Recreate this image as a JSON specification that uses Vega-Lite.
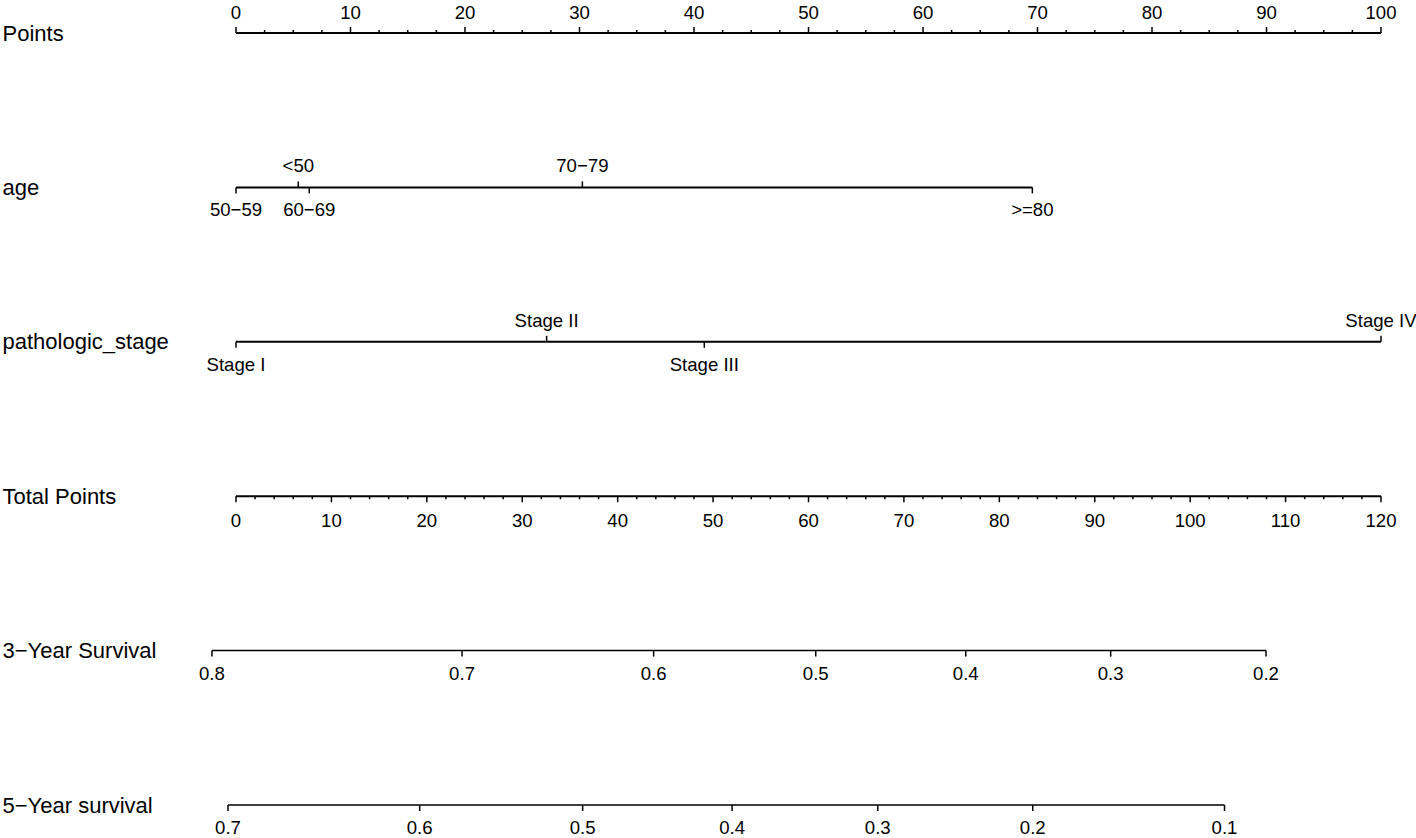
{
  "$schema": "https://vega.github.io/schema/vega-lite/v6.json",
  "width": 1145,
  "height": 772,
  "autosize": {"type": "none"},
  "padding": {"left": 236, "top": 33, "right": 35, "bottom": 33},
  "background": "white",
  "config": {
    "view": {"stroke": null},
    "mark": {"color": "black"},
    "rule": {"color": "black"},
    "text": {"font": "Liberation Sans", "fontSize": 18.6, "color": "black", "baseline": "middle", "align": "center"}
  },
  "datasets": {
    "ptsLines": [
      {"row": "Points", "start": 0, "end": 100},
      {"row": "age", "start": 0, "end": 69.55},
      {"row": "pathologic_stage", "start": 0, "end": 100}
    ],
    "totLines": [
      {"row": "Total Points", "start": 0, "end": 120}
    ],
    "survLines": [
      {"row": "3−Year Survival", "start": -2.52, "end": 107.95},
      {"row": "5−Year survival", "start": -0.84, "end": 103.6}
    ],
    "pointsMajor": [
      {"row": "Points", "value": 0}, {"row": "Points", "value": 10}, {"row": "Points", "value": 20},
      {"row": "Points", "value": 30}, {"row": "Points", "value": 40}, {"row": "Points", "value": 50},
      {"row": "Points", "value": 60}, {"row": "Points", "value": 70}, {"row": "Points", "value": 80},
      {"row": "Points", "value": 90}, {"row": "Points", "value": 100}
    ],
    "pointsMinor": [
      {"row": "Points", "value": 2.5}, {"row": "Points", "value": 5}, {"row": "Points", "value": 7.5},
      {"row": "Points", "value": 12.5}, {"row": "Points", "value": 15}, {"row": "Points", "value": 17.5},
      {"row": "Points", "value": 22.5}, {"row": "Points", "value": 25}, {"row": "Points", "value": 27.5},
      {"row": "Points", "value": 32.5}, {"row": "Points", "value": 35}, {"row": "Points", "value": 37.5},
      {"row": "Points", "value": 42.5}, {"row": "Points", "value": 45}, {"row": "Points", "value": 47.5},
      {"row": "Points", "value": 52.5}, {"row": "Points", "value": 55}, {"row": "Points", "value": 57.5},
      {"row": "Points", "value": 62.5}, {"row": "Points", "value": 65}, {"row": "Points", "value": 67.5},
      {"row": "Points", "value": 72.5}, {"row": "Points", "value": 75}, {"row": "Points", "value": 77.5},
      {"row": "Points", "value": 82.5}, {"row": "Points", "value": 85}, {"row": "Points", "value": 87.5},
      {"row": "Points", "value": 92.5}, {"row": "Points", "value": 95}, {"row": "Points", "value": 97.5}
    ],
    "predictors": [
      {"row": "age", "label": "<50", "points": 5.44},
      {"row": "age", "label": "50−59", "points": 0},
      {"row": "age", "label": "60−69", "points": 6.4},
      {"row": "age", "label": "70−79", "points": 30.25},
      {"row": "age", "label": ">=80", "points": 69.55},
      {"row": "pathologic_stage", "label": "Stage I", "points": 0},
      {"row": "pathologic_stage", "label": "Stage II", "points": 27.13},
      {"row": "pathologic_stage", "label": "Stage III", "points": 40.9},
      {"row": "pathologic_stage", "label": "Stage IV", "points": 100}
    ],
    "totalMajor": [
      {"row": "Total Points", "value": 0}, {"row": "Total Points", "value": 10}, {"row": "Total Points", "value": 20},
      {"row": "Total Points", "value": 30}, {"row": "Total Points", "value": 40}, {"row": "Total Points", "value": 50},
      {"row": "Total Points", "value": 60}, {"row": "Total Points", "value": 70}, {"row": "Total Points", "value": 80},
      {"row": "Total Points", "value": 90}, {"row": "Total Points", "value": 100}, {"row": "Total Points", "value": 110},
      {"row": "Total Points", "value": 120}
    ],
    "totalMinor": [
      {"row": "Total Points", "value": 2}, {"row": "Total Points", "value": 4}, {"row": "Total Points", "value": 6}, {"row": "Total Points", "value": 8},
      {"row": "Total Points", "value": 12}, {"row": "Total Points", "value": 14}, {"row": "Total Points", "value": 16}, {"row": "Total Points", "value": 18},
      {"row": "Total Points", "value": 22}, {"row": "Total Points", "value": 24}, {"row": "Total Points", "value": 26}, {"row": "Total Points", "value": 28},
      {"row": "Total Points", "value": 32}, {"row": "Total Points", "value": 34}, {"row": "Total Points", "value": 36}, {"row": "Total Points", "value": 38},
      {"row": "Total Points", "value": 42}, {"row": "Total Points", "value": 44}, {"row": "Total Points", "value": 46}, {"row": "Total Points", "value": 48},
      {"row": "Total Points", "value": 52}, {"row": "Total Points", "value": 54}, {"row": "Total Points", "value": 56}, {"row": "Total Points", "value": 58},
      {"row": "Total Points", "value": 62}, {"row": "Total Points", "value": 64}, {"row": "Total Points", "value": 66}, {"row": "Total Points", "value": 68},
      {"row": "Total Points", "value": 72}, {"row": "Total Points", "value": 74}, {"row": "Total Points", "value": 76}, {"row": "Total Points", "value": 78},
      {"row": "Total Points", "value": 82}, {"row": "Total Points", "value": 84}, {"row": "Total Points", "value": 86}, {"row": "Total Points", "value": 88},
      {"row": "Total Points", "value": 92}, {"row": "Total Points", "value": 94}, {"row": "Total Points", "value": 96}, {"row": "Total Points", "value": 98},
      {"row": "Total Points", "value": 102}, {"row": "Total Points", "value": 104}, {"row": "Total Points", "value": 106}, {"row": "Total Points", "value": 108},
      {"row": "Total Points", "value": 112}, {"row": "Total Points", "value": 114}, {"row": "Total Points", "value": 116}, {"row": "Total Points", "value": 118}
    ],
    "survival": [
      {"row": "3−Year Survival", "prob": "0.8", "total": -2.52},
      {"row": "3−Year Survival", "prob": "0.7", "total": 23.69},
      {"row": "3−Year Survival", "prob": "0.6", "total": 43.77},
      {"row": "3−Year Survival", "prob": "0.5", "total": 60.76},
      {"row": "3−Year Survival", "prob": "0.4", "total": 76.48},
      {"row": "3−Year Survival", "prob": "0.3", "total": 91.67},
      {"row": "3−Year Survival", "prob": "0.2", "total": 107.95},
      {"row": "5−Year survival", "prob": "0.7", "total": -0.84},
      {"row": "5−Year survival", "prob": "0.6", "total": 19.25},
      {"row": "5−Year survival", "prob": "0.5", "total": 36.33},
      {"row": "5−Year survival", "prob": "0.4", "total": 51.99},
      {"row": "5−Year survival", "prob": "0.3", "total": 67.26},
      {"row": "5−Year survival", "prob": "0.2", "total": 83.5},
      {"row": "5−Year survival", "prob": "0.1", "total": 103.6}
    ]
  },
  "encoding": {
    "y": {
      "field": "row",
      "type": "ordinal",
      "scale": {
        "type": "point",
        "padding": 0,
        "domain": ["Points", "age", "pathologic_stage", "Total Points", "3−Year Survival", "5−Year survival"]
      },
      "axis": {
        "title": null,
        "domain": false,
        "ticks": false,
        "tickSize": 0,
        "grid": false,
        "labelPadding": 234,
        "labelAlign": "left",
        "labelBaseline": "middle",
        "labelFont": "Liberation Sans",
        "labelFontSize": 22,
        "labelColor": "black",
        "labelLimit": 400
      }
    }
  },
  "layer": [
    {
      "data": {"name": "ptsLines"},
      "mark": {"type": "rule", "strokeWidth": 2},
      "encoding": {
        "x": {"field": "start", "type": "quantitative", "scale": {"domain": [0, 100], "nice": false, "zero": false}, "axis": null},
        "x2": {"field": "end"}
      }
    },
    {
      "data": {"name": "totLines"},
      "mark": {"type": "rule", "strokeWidth": 2},
      "encoding": {
        "x": {"field": "start", "type": "quantitative", "scale": {"domain": [0, 120], "nice": false, "zero": false}, "axis": null},
        "x2": {"field": "end"}
      }
    },
    {
      "data": {"name": "survLines"},
      "mark": {"type": "rule", "strokeWidth": 1.5},
      "encoding": {
        "x": {"field": "start", "type": "quantitative", "scale": {"domain": [0, 120], "nice": false, "zero": false}, "axis": null},
        "x2": {"field": "end"}
      }
    },
    {
      "data": {"name": "pointsMajor"},
      "mark": {"type": "rule", "strokeWidth": 1.5, "y2Offset": -6},
      "encoding": {
        "x": {"field": "value", "type": "quantitative", "scale": {"domain": [0, 100], "nice": false, "zero": false}, "axis": null},
        "y2": {"field": "row"}
      }
    },
    {
      "data": {"name": "pointsMinor"},
      "mark": {"type": "rule", "strokeWidth": 1.5, "y2Offset": -3},
      "encoding": {
        "x": {"field": "value", "type": "quantitative", "scale": {"domain": [0, 100], "nice": false, "zero": false}, "axis": null},
        "y2": {"field": "row"}
      }
    },
    {
      "data": {"name": "pointsMajor"},
      "mark": {"type": "text", "dy": -20},
      "encoding": {
        "x": {"field": "value", "type": "quantitative", "scale": {"domain": [0, 100], "nice": false, "zero": false}, "axis": null},
        "text": {"field": "value", "type": "quantitative", "format": "d"}
      }
    },
    {
      "data": {"name": "predictors"},
      "transform": [{"filter": {"field": "label", "oneOf": ["<50", "70−79", "Stage II", "Stage IV"]}}],
      "mark": {"type": "rule", "strokeWidth": 1.5, "y2Offset": -6},
      "encoding": {
        "x": {"field": "points", "type": "quantitative", "scale": {"domain": [0, 100], "nice": false, "zero": false}, "axis": null},
        "y2": {"field": "row"}
      }
    },
    {
      "data": {"name": "predictors"},
      "transform": [{"filter": {"not": {"field": "label", "oneOf": ["<50", "70−79", "Stage II", "Stage IV"]}}}],
      "mark": {"type": "rule", "strokeWidth": 1.5, "y2Offset": 6},
      "encoding": {
        "x": {"field": "points", "type": "quantitative", "scale": {"domain": [0, 100], "nice": false, "zero": false}, "axis": null},
        "y2": {"field": "row"}
      }
    },
    {
      "data": {"name": "predictors"},
      "transform": [{"filter": {"field": "label", "oneOf": ["<50", "70−79", "Stage II", "Stage IV"]}}],
      "mark": {"type": "text", "dy": -21},
      "encoding": {
        "x": {"field": "points", "type": "quantitative", "scale": {"domain": [0, 100], "nice": false, "zero": false}, "axis": null},
        "text": {"field": "label", "type": "nominal"}
      }
    },
    {
      "data": {"name": "predictors"},
      "transform": [{"filter": {"not": {"field": "label", "oneOf": ["<50", "70−79", "Stage II", "Stage IV"]}}}],
      "mark": {"type": "text", "dy": 23},
      "encoding": {
        "x": {"field": "points", "type": "quantitative", "scale": {"domain": [0, 100], "nice": false, "zero": false}, "axis": null},
        "text": {"field": "label", "type": "nominal"}
      }
    },
    {
      "data": {"name": "totalMajor"},
      "mark": {"type": "rule", "strokeWidth": 1.5, "y2Offset": 6},
      "encoding": {
        "x": {"field": "value", "type": "quantitative", "scale": {"domain": [0, 120], "nice": false, "zero": false}, "axis": null},
        "y2": {"field": "row"}
      }
    },
    {
      "data": {"name": "totalMinor"},
      "mark": {"type": "rule", "strokeWidth": 1.5, "y2Offset": 3},
      "encoding": {
        "x": {"field": "value", "type": "quantitative", "scale": {"domain": [0, 120], "nice": false, "zero": false}, "axis": null},
        "y2": {"field": "row"}
      }
    },
    {
      "data": {"name": "totalMajor"},
      "mark": {"type": "text", "dy": 25},
      "encoding": {
        "x": {"field": "value", "type": "quantitative", "scale": {"domain": [0, 120], "nice": false, "zero": false}, "axis": null},
        "text": {"field": "value", "type": "quantitative", "format": "d"}
      }
    },
    {
      "data": {"name": "survival"},
      "mark": {"type": "rule", "strokeWidth": 1.5, "y2Offset": 6},
      "encoding": {
        "x": {"field": "total", "type": "quantitative", "scale": {"domain": [0, 120], "nice": false, "zero": false}, "axis": null},
        "y2": {"field": "row"}
      }
    },
    {
      "data": {"name": "survival"},
      "mark": {"type": "text", "dy": 23},
      "encoding": {
        "x": {"field": "total", "type": "quantitative", "scale": {"domain": [0, 120], "nice": false, "zero": false}, "axis": null},
        "text": {"field": "prob", "type": "nominal"}
      }
    }
  ],
  "resolve": {"scale": {"x": "independent"}}
}
